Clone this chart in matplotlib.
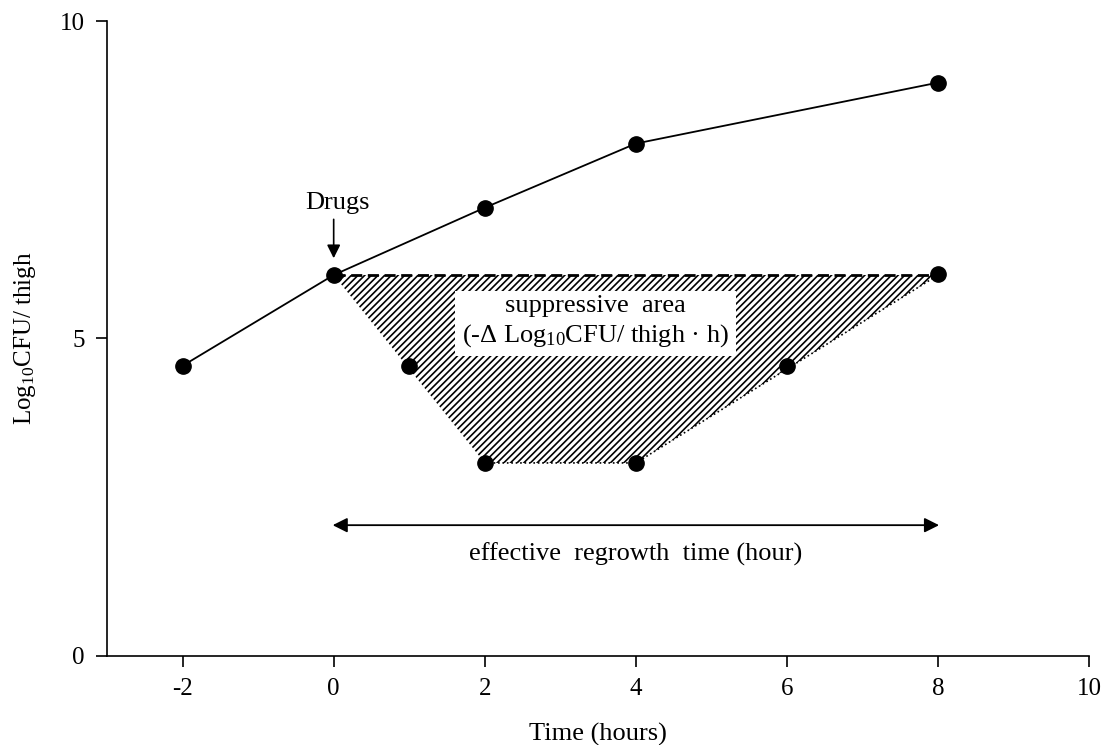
import matplotlib
matplotlib.use("Agg")
import matplotlib.pyplot as plt

plt.rcParams['font.family'] = ['Liberation Serif', 'DejaVu Serif']
plt.rcParams['mathtext.default'] = 'regular'
plt.rcParams['hatch.linewidth'] = 1.2

# untreated growth
ctrl_t = [-2, 0, 2, 4, 8]
ctrl_y = [4.57, 6.0, 7.06, 8.07, 9.03]

# after drugs
drug_t = [1, 2, 4, 6, 8]
drug_y = [4.57, 3.04, 3.04, 4.57, 6.02]

# suppressive area outline
area_t = [0, 2, 4, 8]
area_y = [6.0, 3.04, 3.04, 6.0]

xticks = [-2, 0, 2, 4, 6, 8, 10]
yticks = [0, 5, 10]

fig = plt.figure(figsize=(11.08, 7.45), dpi=100)
ax = fig.add_axes([0.0966, 0.1195, 0.8864, 0.8523])

ax.fill(area_t, area_y, facecolor='white', edgecolor='black', hatch='/////', linewidth=0)
ax.plot([area_t[0], area_t[-1]], [area_y[0], area_y[-1]], color='black', lw=2, ls=(0, (4, 2)))
ax.plot(area_t[1:], area_y[1:], color='black', lw=1.2, ls=':')

ax.plot(ctrl_t, ctrl_y, color='black', lw=1.3, marker='o', ms=11, zorder=5)
ax.plot(drug_t, drug_y, ls='none', color='black', marker='o', ms=11, zorder=5)

ax.text(3.47, 5.26, 'suppressive  area\n(-\u0394 Log$_{10}$CFU/ thigh \u00b7 h)', ha='center', va='center',
        fontsize=19, linespacing=1.25,
        bbox=dict(facecolor='white', edgecolor='none', pad=5))

ax.annotate('', xy=(0, 6.22), xytext=(0, 6.92),
            arrowprops=dict(arrowstyle='-|>', color='black', lw=1.2, mutation_scale=20))
ax.text(0.05, 7.13, 'Drugs', ha='center', va='center', fontsize=19)

ax.annotate('', xy=(-0.05, 2.06), xytext=(8.05, 2.06),
            arrowprops=dict(arrowstyle='<|-|>', color='black', lw=1.3, mutation_scale=22))
ax.text(4, 1.6, 'effective  regrowth  time (hour)', ha='center', va='center', fontsize=19)

ax.set_xlim(-3, 10)
ax.set_ylim(0, 10)
ax.set_xticks(xticks)
ax.set_xticklabels(['-2', '0', '2', '4', '6', '8', '10'])
ax.set_yticks(yticks)
ax.tick_params(labelsize=18, width=1.2, length=8, direction='out', pad=8)
ax.spines['top'].set_visible(False)
ax.spines['right'].set_visible(False)
ax.spines['left'].set_linewidth(1.2)
ax.spines['bottom'].set_linewidth(1.2)

ax.set_xlabel('Time (hours)', fontsize=19, labelpad=16)
ax.set_ylabel('Log$_{10}$CFU/ thigh', fontsize=18, labelpad=16)

fig.savefig('out.png', dpi=100)
